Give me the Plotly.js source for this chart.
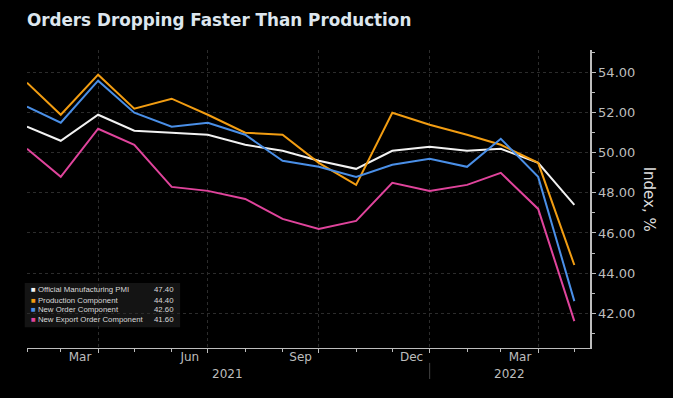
<!DOCTYPE html>
<html><head><meta charset="utf-8">
<script src="https://cdn.plot.ly/plotly-3.0.1.min.js"></script>
<style>html,body{margin:0;padding:0;background:#000;}#chart{width:673px;height:398px;}</style>
</head><body><div id="chart"></div>
<script>
const months = ['2021-01-31','2021-02-28','2021-03-31','2021-04-30','2021-05-31','2021-06-30','2021-07-31','2021-08-31','2021-09-30','2021-10-31','2021-11-30','2021-12-31','2022-01-31','2022-02-28','2022-03-31','2022-04-30'];
const seriesNames = ['Official Manufacturing PMI','Production Component','New Order Component','New Export Order Component'];
const pmi        = [51.3,50.6,51.9,51.1,51.0,50.9,50.4,50.1,49.6,49.2,50.1,50.3,50.1,50.2,49.5,47.4];
const production = [53.5,51.9,53.9,52.2,52.7,51.9,51.0,50.9,49.5,48.4,52.0,51.4,50.9,50.4,49.5,44.4];
const newOrders  = [52.3,51.5,53.6,52.0,51.3,51.5,50.9,49.6,49.3,48.8,49.4,49.7,49.3,50.7,48.8,42.6];
const exportOrd  = [50.2,48.8,51.2,50.4,48.3,48.1,47.7,46.7,46.2,46.6,48.5,48.1,48.4,49.0,47.2,41.6];
const lastValues = ['47.40','44.40','42.60','41.60'];
const monthLabelDates = ['2021-03-16','2021-06-15','2021-09-15','2021-12-16','2022-03-16'];
const monthLabels = ['Mar','Jun','Sep','Dec','Mar'];
const quarterEnds = ['2021-03-31','2021-06-30','2021-09-30','2021-12-31','2022-03-31'];
const yearLabelDates = ['2021-07-16','2022-03-07'];
const yearLabels = ['2021','2022'];
const yTicks = [42,44,46,48,50,52,54];

const colors = ['#f2f2f2','#f29d12','#4a8fe7','#e0449c'];
const allSeries = [pmi, production, newOrders, exportOrd];
const xRange = ['2021-01-31','2022-05-13'];
const yRange = [40.26, 55.13];
const tickColor = '#bdbdbd';
const gridColor = '#2c2c2c';
const font = 'DejaVu Sans, sans-serif';
const legendFont = 'Liberation Sans, Arial, sans-serif';

const traces = allSeries.map((s,i)=>({
  x: months, y: s, type:'scatter', mode:'lines', name: seriesNames[i],
  line:{color:colors[i], width:2}, showlegend:false, hoverinfo:'skip'
}));
traces.push({x:[months[0]], y:[null], xaxis:'x2', yaxis:'y', showlegend:false, hoverinfo:'skip'});
traces.push({x:[months[0]], y:[null], xaxis:'x3', yaxis:'y', showlegend:false, hoverinfo:'skip'});

const annotations = [];
yearLabelDates.forEach((d,i)=>annotations.push({
  x:d, xref:'x', y:-0.058, yref:'paper', yanchor:'top', showarrow:false,
  text:yearLabels[i], font:{family:font, size:12, color:tickColor}
}));
annotations.push({x:1.125, xref:'paper', y:0.5, yref:'paper', textangle:90, showarrow:false,
  text:'Index, %', font:{family:font, size:15, color:'#dddddd'}});
const rowY = [0.195,0.161,0.128,0.094];
seriesNames.forEach((n,i)=>{
  annotations.push({x:0.004, xref:'paper', y:rowY[i], yref:'paper', xanchor:'left', yanchor:'middle', showarrow:false,
    text:'<span style="color:'+colors[i]+'">■</span> '+n, font:{family:legendFont, size:7.8, color:'#d8d8d8'}});
  annotations.push({x:0.264, xref:'paper', y:rowY[i], yref:'paper', xanchor:'right', yanchor:'middle', showarrow:false,
    text:lastValues[i], font:{family:legendFont, size:7.8, color:'#d8d8d8'}});
});

const layout = {
  width:673, height:398,
  paper_bgcolor:'#000', plot_bgcolor:'#000',
  margin:{l:27, r:83, t:50, b:50},
  title:{text:'<b>Orders Dropping Faster Than Production</b>', x:0.04, xanchor:'left', y:0.95, yanchor:'middle',
    font:{family:font, size:16.8, color:'#dde6ee'}},
  xaxis:{type:'date', range:xRange, tickvals:months, ticktext:months.map(()=>''), ticks:'outside', ticklen:3,
    tickcolor:tickColor, showgrid:false, showline:true, linecolor:tickColor, linewidth:1, zeroline:false, fixedrange:true},
  xaxis2:{type:'date', range:xRange, overlaying:'x', anchor:'y', side:'bottom', tickvals:monthLabelDates, ticktext:monthLabels,
    ticks:'', showgrid:false, showline:false, zeroline:false, tickfont:{family:font, size:12, color:tickColor}},
  xaxis3:{type:'date', range:xRange, overlaying:'x', anchor:'y', side:'bottom', tickvals:quarterEnds, ticktext:quarterEnds.map(()=>''),
    ticks:'outside', ticklen:4, tickcolor:tickColor, showgrid:true, gridcolor:gridColor, griddash:'dot', gridwidth:1, showline:false, zeroline:false},
  yaxis:{side:'right', range:yRange, tickvals:yTicks, tickformat:'.2f', ticks:'outside', ticklen:4, tickcolor:tickColor,
    minor:{dtick:1, ticks:'outside', ticklen:3, tickcolor:tickColor, showgrid:false},
    showgrid:true, gridcolor:gridColor, griddash:'dot', gridwidth:1, showline:true, linecolor:tickColor, linewidth:1.5, zeroline:false,
    tickfont:{family:font, size:13, color:tickColor}},
  shapes:[
    {type:'rect', xref:'paper', yref:'paper', x0:-0.004, x1:0.272, y0:0.07, y1:0.218, fillcolor:'#141414', line:{width:0}, layer:'below'},
    {type:'line', xref:'x', yref:'paper', x0:'2021-12-31', x1:'2021-12-31', y0:-0.05, y1:-0.104, line:{color:'#444', width:1}}
  ],
  annotations:annotations,
  showlegend:false
};
Plotly.newPlot('chart', traces, layout, {staticPlot:true, displayModeBar:false});
</script></body></html>
